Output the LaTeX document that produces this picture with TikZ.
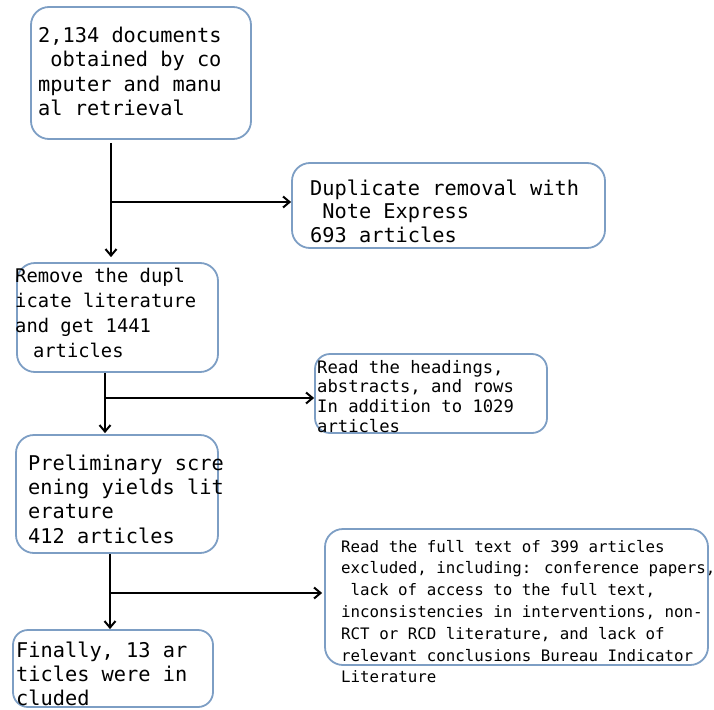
\documentclass[tikz,border=0pt]{standalone}
\usepackage{fontspec}
\setmainfont{DejaVu Sans Mono}
\usetikzlibrary{arrows.meta}
\definecolor{boxline}{RGB}{125,158,196}
\newcommand\monosize[2]{\fontsize{#1}{#2}\selectfont\spaceskip=0.602em\relax}
\begin{document}
\begin{tikzpicture}[x=1pt,y=-1pt,
  box/.style={draw=boxline, line width=1.8pt, rounded corners=18pt, inner sep=0pt},
  txt/.style={anchor=base west, inner sep=0pt, align=flush left, text width=420pt},
  arr/.style={line width=2pt, -{Straight Barb[length=6.5pt,width=11pt]}}]
\useasboundingbox (0,0) rectangle (714,709);
% boxes
\node[box, minimum width=220pt, minimum height=132pt] (b1) at (141,73) {};
\node[box, minimum width=313pt, minimum height=85pt] (b2) at (448.5,205.5) {};
\node[box, minimum width=201pt, minimum height=109pt] (b3) at (117.5,317.5) {};
\node[box, minimum width=232pt, minimum height=79pt, rounded corners=15pt] (b4) at (431,393.5) {};
\node[box, minimum width=202pt, minimum height=118pt] (b5) at (117,494) {};
\node[box, minimum width=383pt, minimum height=136pt] (b6) at (516.5,597) {};
\node[box, minimum width=200pt, minimum height=77pt, rounded corners=15pt] (b7) at (113,668.5) {};
% texts
\node[txt, font=\monosize{20.3}{24.5}] (t1) at (38,42)
  {2,134 documents\\\hspace*{0.6em}obtained by co\\mputer and manu\\al retrieval};
\node[txt, font=\monosize{20.3}{23.5}] (t2) at (310,195)
  {Duplicate removal with\\\hspace*{0.6em}Note Express\\693 articles};
\node[txt, font=\monosize{18.8}{25}] (t3) at (15,282)
  {Remove the dupl\\icate literature\\and get 1441\\\hspace*{0.95em}articles};
\node[txt, font=\monosize{17.2}{19.7}] (t4) at (317,373)
  {Read the headings,\\abstracts, and rows\\In addition to 1029\\articles};
\node[txt, font=\monosize{20.3}{24.4}] (t5) at (28,470)
  {Preliminary scre\\ening yields lit\\erature\\412 articles};
\node[txt, font=\monosize{15.8}{21.8}] (t6) at (341,552)
  {Read the full text of 399 articles\\excluded, including: conference papers,\\\hspace*{0.6em}lack of access to the full text,\\inconsistencies in interventions, non-\\RCT or RCD literature, and lack of\\relevant conclusions Bureau Indicator\\Literature};
\node[txt, font=\monosize{20.3}{24}] (t7) at (16,657)
  {Finally, 13 ar\\ticles were in\\cluded};
% connectors
\coordinate (j1) at (111,202);
\coordinate (j2) at (105,398);
\coordinate (j3) at (110,593);
\draw[arr, shorten <=3pt, shorten >=5pt] (b1.south -| j1) -- (b3.north -| j1);
\draw[arr] (j1) -- (j1 -| b2.west);
\draw[arr, shorten >=1pt] (b3.south -| j2) -- (b5.north -| j2);
\draw[arr] (j2) -- (j2 -| b4.west);
\draw[arr] (b5.south -| j3) -- (b7.north -| j3);
\draw[arr, shorten >=2pt] (j3) -- (j3 -| b6.west);
\end{tikzpicture}
\end{document}
